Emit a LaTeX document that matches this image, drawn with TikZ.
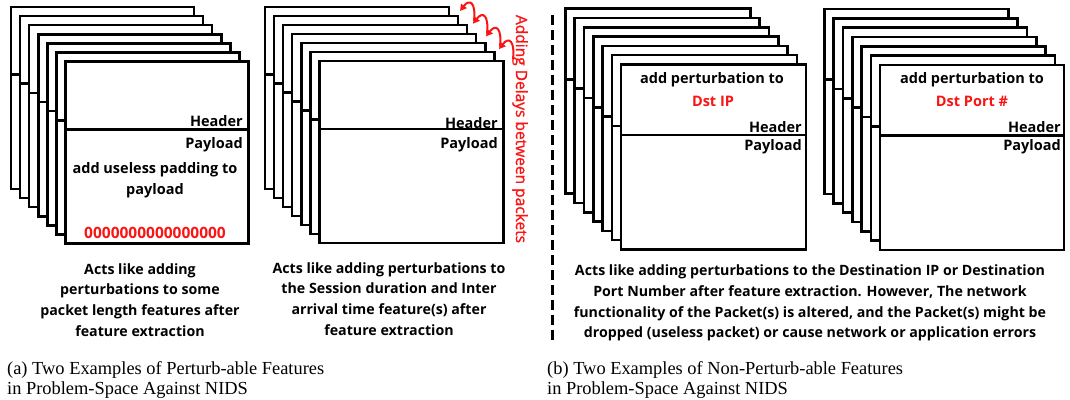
\documentclass[tikz,border=0pt]{standalone}
\usepackage{fontspec}
\usetikzlibrary{arrows.meta,calc}
\newfontfamily\figfont{Open Sans}
\newfontfamily\delayfont{Open Sans}[FakeBold=1.3]
\newfontfamily\capfont{Liberation Serif}
\definecolor{pertred}{RGB}{250,20,20}

\tikzset{
  pkt/.style 2 args={draw, fill=white, line width=2.6pt, inner sep=0pt,
    minimum width=#1, minimum height=#2, anchor=north west},
  hdr/.style={line width=2.6pt},
  lbl/.style={font=\figfont\bfseries\fontsize{14.5}{21}\selectfont, inner sep=0pt},
  desc/.style={font=\figfont\bfseries\fontsize{14.2}{20.8}\selectfont, align=center, inner sep=0pt},
  figcap/.style={font=\capfont\fontsize{18.4}{20.5}\selectfont, align=left, inner sep=0pt, anchor=north west},
  delay/.style={pertred, line width=2pt, -{Triangle[length=6.5pt,width=7pt]}},
}

\begin{document}
\begin{tikzpicture}[x=1pt, y=-1pt]
  \useasboundingbox (0,0) rectangle (1070,399);

  % packet stacks: name/back x/back y/step/width/height/header offset
  \foreach \s/\bx/\by/\st/\w/\h/\hd in {a/9.5/5.5/9.15/183/182/69, b/263.7/5.5/9.05/184/182/69,
      c/564/7.3/9.3/185/185/72, d/823/7.7/9.3/184/185/72} {
    \foreach \i in {0,...,6} {
      \node[pkt={\w pt}{\h pt}] (\s\i) at ({\bx+\i*\st},{\by+\i*\st}) {};
      \draw[hdr] ([yshift=-\hd pt]\s\i.north west) -- ([yshift=-\hd pt]\s\i.north east);
    }
  }

  % (a) padding
  \node[lbl, anchor=east] (a-hdr) at (243,121) {Header};
  \node[lbl, anchor=east] (a-pay) at (243,145) {Payload};
  \node[lbl, align=center] (a-pad) at (155,180) {add useless padding to\\payload};
  \node[lbl, font=\figfont\bfseries\fontsize{15.5}{21}\selectfont, text=pertred] (a-zero) at (155,233) {0000000000000000};

  % (a) delays
  \node[lbl, anchor=east] (b-hdr) at (498,123) {Header};
  \node[lbl, anchor=east] (b-pay) at (498,145) {Payload};
  \foreach \k in {0,...,3} {
    \coordinate (h\k) at ({460+13*\k},{11+12.7*\k});
    \coordinate (t\k) at ({474+13*\k},{21+12.7*\k});
    \draw[delay] (t\k) .. controls ($(t\k)+(2,-18)$) and ($(h\k)+(10,-13)$) .. (h\k);
  }
  \node[font=\delayfont\fontsize{15.5}{18}\selectfont, text=pertred, rotate=-90, inner sep=0pt]
    (delaylbl) at (520,129) {Adding Delays between packets};

  % (b) dst ip / dst port
  \node[lbl] (c-add) at (712,80) {add perturbation to};
  \node[lbl, text=pertred] (c-ip) at (713,101) {Dst IP};
  \node[lbl, anchor=east] (c-hdr) at (802,127) {Header};
  \node[lbl, anchor=east] (c-pay) at (802,147) {Payload};
  \node[lbl] (d-add) at (972,80) {add perturbation to};
  \node[lbl, text=pertred] (d-port) at (972,101) {Dst Port \#};
  \node[lbl, anchor=east] (d-hdr) at (1061,127) {Header};
  \node[lbl, anchor=east] (d-pay) at (1061,147) {Payload};

  % separator
  \coordinate (sep-top) at (552,15);
  \coordinate (sep-bot) at (552,340);
  \draw[line width=3pt, dash pattern=on 10pt off 5pt] (sep-top) -- (sep-bot);

  % descriptions
  \node[desc] (a-txt) at (140,300) {Acts like adding\\perturbations to some\\packet length features after\\feature extraction};
  \node[desc] (b-txt) at (389,299) {Acts like adding perturbations to\\the Session duration and Inter\\arrival time feature(s) after\\feature extraction};
  \node[desc] (c-txt) at (810,303) {Acts like adding perturbations to the Destination IP or Destination\\Port Number after feature extraction. However, The network\\functionality of the Packet(s) is altered, and the Packet(s) might be\\dropped (useless packet) or cause network or application errors};

  % captions
  \node[figcap] (a-cap) at (7,361) {(a) Two Examples of Perturb-able Features\\in Problem-Space Against NIDS};
  \node[figcap] (b-cap) at (547,361) {(b) Two Examples of Non-Perturb-able Features\\in Problem-Space Against NIDS};
\end{tikzpicture}
\end{document}
